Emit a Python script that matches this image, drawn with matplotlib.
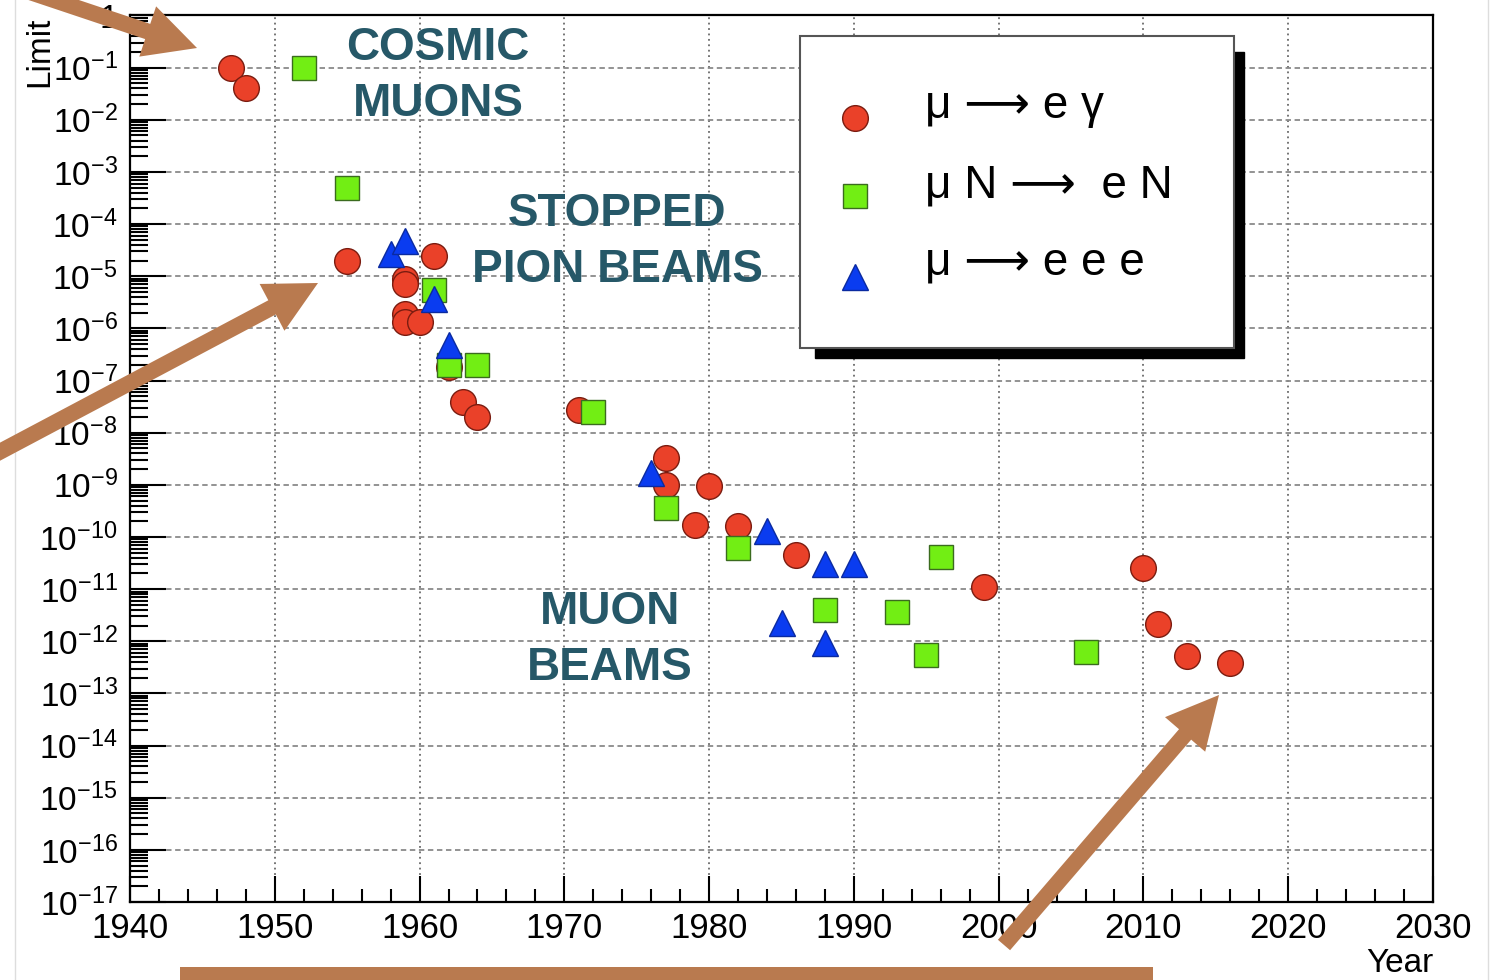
import numpy as np
import matplotlib
matplotlib.use("Agg")
import matplotlib.pyplot as plt
from matplotlib.patches import FancyArrow, Rectangle
from matplotlib.ticker import FixedLocator, FuncFormatter, MultipleLocator, LogLocator

plt.rcParams['font.family'] = ['Liberation Sans', 'DejaVu Sans']
plt.rcParams['mathtext.default'] = 'regular'

# mu -> e gamma
mueg_year = [1947, 1948, 1955, 1959, 1959, 1959, 1959, 1960, 1961, 1962, 1963, 1964,
             1971, 1977, 1977, 1979, 1980, 1982, 1986, 1999, 2010, 2011, 2013, 2016]
mueg_limit = [1.0e-1, 4e-2, 2e-5, 9e-6, 7e-6, 1.9e-6, 1.35e-6, 1.35e-6, 2.4e-5, 1.8e-7, 3.9e-8, 2.0e-8,
              2.7e-8, 3.3e-9, 1.0e-9, 1.7e-10, 9.5e-10, 1.6e-10, 4.5e-11, 1.1e-11, 2.5e-11, 2.1e-12, 5.2e-13, 3.9e-13]

# mu N -> e N
mueN_year = [1952, 1955, 1961, 1962, 1964, 1972, 1977, 1982, 1988, 1993, 1995, 1996, 2006]
mueN_limit = [1.0e-1, 5e-4, 5.5e-6, 2e-7, 2e-7, 2.5e-8, 3.6e-10, 6.2e-11, 4e-12, 3.7e-12, 5.5e-13, 4.1e-11, 6.3e-13]

# mu -> e e e
mueee_year = [1958, 1959, 1961, 1962, 1976, 1984, 1985, 1988, 1988, 1990]
mueee_limit = [2.7e-5, 4.7e-5, 3.7e-6, 4.9e-7, 1.7e-9, 1.3e-10, 2.2e-12, 3e-11, 9.3e-13, 3e-11]

red, red_e = '#ea4129', '#7a1c10'
green, green_e = '#72ee14', '#3b6b1f'
blue, blue_e = '#0a3cf0', '#0a2aa0'
brown = '#b97a4f'
teal = '#265868'

W, H = 1502, 980
fig = plt.figure(figsize=(W / 100, H / 100), dpi=100)
ax = fig.add_axes([130 / W, 1 - 902 / H, (1433 - 130) / W, (902 - 15.5) / H])

ax.plot(mueg_year, mueg_limit, 'o', ms=18.5, mfc=red, mec=red_e, mew=1, ls='none', zorder=3)
ax.plot(mueN_year, mueN_limit, 's', ms=17.5, mfc=green, mec=green_e, mew=1, ls='none', zorder=4)
ax.plot(mueee_year, mueee_limit, '^', ms=18.5, mfc=blue, mec=blue_e, mew=1, ls='none', zorder=5)

ax.set_yscale('log')
ax.set_xlim(1940, 2030)
ax.set_ylim(1e-17, 1)

ax.xaxis.set_major_locator(MultipleLocator(10))
ax.xaxis.set_minor_locator(MultipleLocator(2))
ax.yaxis.set_major_locator(FixedLocator([10.0 ** k for k in range(-17, 1)]))
ax.yaxis.set_minor_locator(LogLocator(base=10, subs=np.arange(2, 10), numticks=100))


def ylab(v, pos):
    k = int(round(np.log10(v)))
    return '1' if k == 0 else r'$10^{%d}$' % k


ax.yaxis.set_major_formatter(FuncFormatter(ylab))
ax.yaxis.set_minor_formatter(FuncFormatter(lambda v, p: ''))

ax.tick_params(which='both', direction='in', top=False, right=False, width=1.5)
ax.tick_params(axis='y', which='major', length=26, pad=9, labelsize=24)
ax.tick_params(axis='y', which='minor', length=13, width=1.5)
ax.tick_params(axis='x', which='major', length=19, pad=7, labelsize=25)
ax.tick_params(axis='x', which='minor', length=9.5)

ax.grid(True, axis='y', which='major', linestyle=(0, (3, 2)), color='#8a8a8a', lw=1.3)
ax.grid(True, axis='x', which='major', linestyle=(0, (1, 2)), color='#6a6a6a', lw=1.3)
for s in ax.spines.values():
    s.set_linewidth(1.6)

# overlay in pixel coordinates for annotations
ov = fig.add_axes([0, 0, 1, 1], facecolor='none')
ov.set_xlim(0, W)
ov.set_ylim(H, 0)
ov.axis('off')

ov.text(40, 17, 'Limit', rotation=90, ha='center', va='top', fontsize=24)
ov.text(1433, 972, 'Year', ha='right', va='baseline', fontsize=24)

# legend
ov.add_patch(Rectangle((815, 52), 429, 306, color='black', zorder=1))
ov.add_patch(Rectangle((800, 36), 434, 312, facecolor='white', edgecolor='#555555', lw=1.5, zorder=2))
ov.plot([855], [118], 'o', ms=18.5, mfc=red, mec=red_e, mew=1, zorder=3)
ov.plot([855], [196], 's', ms=17.5, mfc=green, mec=green_e, mew=1, zorder=3)
ov.plot([855], [277], '^', ms=18.5, mfc=blue, mec=blue_e, mew=1, zorder=3)
legend_labels = ['μ ⟶ e γ', 'μ N ⟶  e N', 'μ ⟶ e e e']
for lab, yb in zip(legend_labels, [118, 197, 274]):
    ov.text(925, yb, lab, ha='left', va='baseline', fontsize=33, zorder=3)

# region labels
for txt, cx, cy in [('COSMIC\nMUONS', 438, 76), ('STOPPED\nPION BEAMS', 617, 242),
                    ('MUON\nBEAMS', 610, 640)]:
    ov.text(cx, cy, txt, ha='center', va='center', fontsize=33,
            fontweight='bold', color=teal, linespacing=1.38)

# arrows
for (x0, y0, x1, y1) in [(-21, -25, 197, 48), (-10, 457, 318, 283), (1004, 945, 1219, 695)]:
    ov.add_patch(FancyArrow(x0, y0, x1 - x0, y1 - y0, width=16, head_width=53, head_length=52,
                            length_includes_head=True, color=brown, lw=0, zorder=6))
ov.add_patch(Rectangle((180, 967), 973, 20, color=brown, lw=0, zorder=6))
ov.plot([15, 15], [0, H], color='#dddddd', lw=1)
ov.plot([1488, 1488], [0, H], color='#dddddd', lw=1)

fig.savefig('out.png', dpi=100)
